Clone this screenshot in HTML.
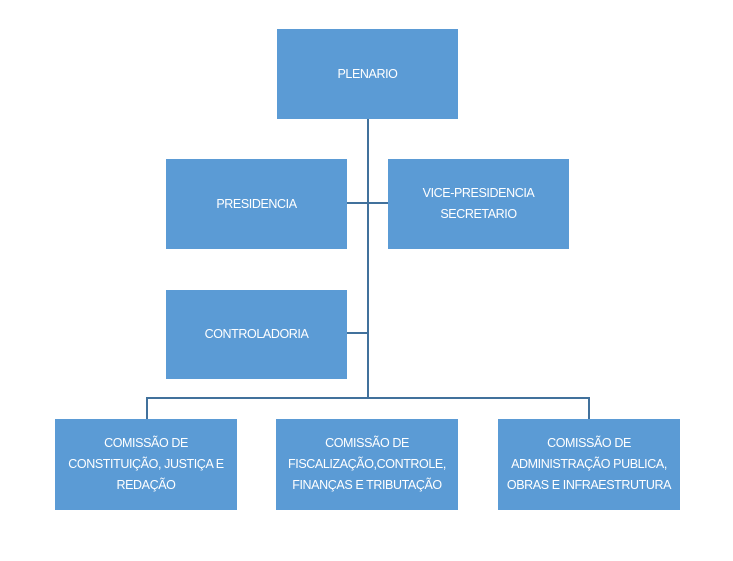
<!DOCTYPE html>
<html><head><style>
body{margin:0;width:733px;height:561px;background:#fff;position:relative;overflow:hidden;font-family:"Liberation Sans",sans-serif;}
.b{position:absolute;background:#5b9bd5;color:#fff;font-size:12.5px;display:flex;align-items:center;justify-content:center;text-align:center;line-height:21px;letter-spacing:-0.4px}
.l{position:absolute;background:#41719c}
</style></head><body>
<div class="l" style="left:367px;top:119px;width:2px;height:280px"></div>
<div class="l" style="left:347px;top:202px;width:41px;height:2px"></div>
<div class="l" style="left:347px;top:332px;width:21px;height:2px"></div>
<div class="l" style="left:146px;top:397px;width:444px;height:2px"></div>
<div class="l" style="left:146px;top:397px;width:2px;height:22px"></div>
<div class="l" style="left:588px;top:397px;width:2px;height:22px"></div>
<div class="b" style="left:277px;top:29px;width:181px;height:90px">PLENARIO</div>
<div class="b" style="left:166px;top:159px;width:181px;height:90px">PRESIDENCIA</div>
<div class="b" style="left:388px;top:159px;width:181px;height:90px">VICE-PRESIDENCIA<br>SECRETARIO</div>
<div class="b" style="left:166px;top:290px;width:181px;height:89px">CONTROLADORIA</div>
<div class="b" style="left:55px;top:419px;width:182px;height:91px">COMISSÃO DE<br>CONSTITUIÇÃO, JUSTIÇA E<br>REDAÇÃO</div>
<div class="b" style="left:276px;top:419px;width:182px;height:91px">COMISSÃO DE<br>FISCALIZAÇÃO,CONTROLE,<br>FINANÇAS E TRIBUTAÇÃO</div>
<div class="b" style="left:498px;top:419px;width:182px;height:91px">COMISSÃO DE<br>ADMINISTRAÇÃO PUBLICA,<br>OBRAS E INFRAESTRUTURA</div>
</body></html>
